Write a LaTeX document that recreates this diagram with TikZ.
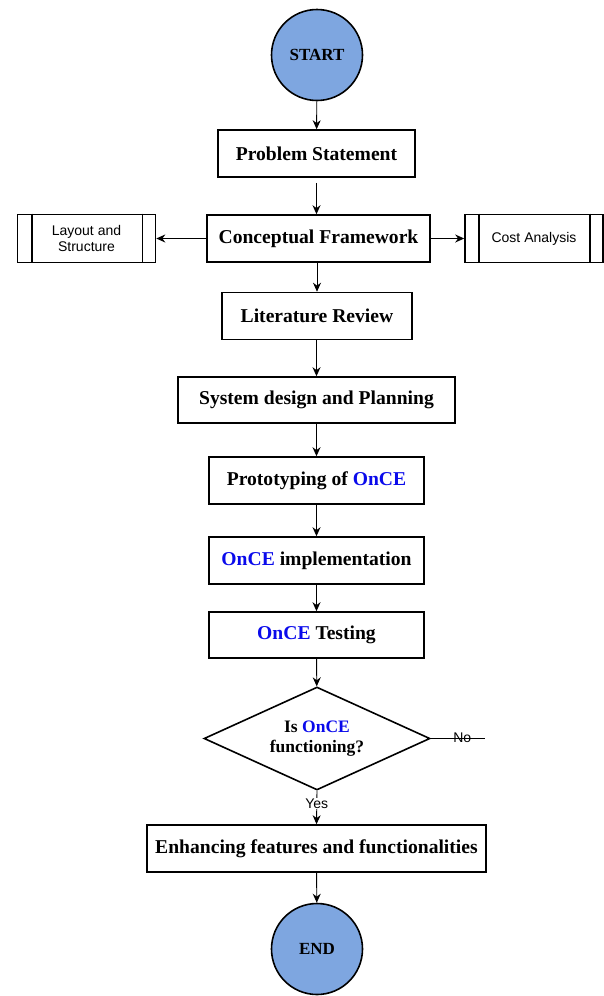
\documentclass[tikz,border=0pt]{standalone}
\usepackage{fontspec}
\setmainfont{Liberation Serif}
\newfontfamily\labelfont{Liberation Sans}
\usetikzlibrary{shapes.geometric,arrows.meta}
\definecolor{termfill}{RGB}{126,166,224}
\definecolor{oncecol}{RGB}{10,10,235}
\newcommand{\OnCEname}{\textcolor{oncecol}{OnCE}}
\begin{document}
\begin{tikzpicture}[x=1pt,y=-1pt,
  terminal/.style={circle, draw, line width=1.6pt, fill=termfill, minimum size=91pt,
    inner sep=0pt, font=\bfseries\fontsize{17}{20}\selectfont},
  stepbox/.style={rectangle, draw, line width=1.6pt, minimum height=47pt, inner sep=0pt,
    font=\bfseries\fontsize{19.6}{22}\selectfont},
  subproc/.style={rectangle, draw, line width=1.6pt, minimum width=138pt, minimum height=48pt,
    inner sep=0pt, align=center, font=\labelfont\fontsize{14}{15.5}\selectfont},
  decision/.style={diamond, draw, line width=1.6pt, aspect=2.2, minimum width=226pt,
    minimum height=103pt, inner sep=0pt, align=center,
    font=\bfseries\fontsize{17.5}{20}\selectfont},
  arr/.style={-{Stealth[length=9pt,width=8pt]}, line width=0.9pt},
  lbl/.style={font=\labelfont\fontsize{14}{16}\selectfont, inner sep=1pt}
]
\useasboundingbox (0,0) rectangle (604,996);

% main flow
\node[terminal] (start) at (317,55) {START};
\node[stepbox, minimum width=197pt] (ps) at (316.5,153.5) {Problem Statement};
\node[stepbox, minimum width=223pt] (cf) at (318.5,238.5) {Conceptual Framework};
\node[stepbox, minimum width=190pt] (lr) at (317,316) {Literature Review};
\node[stepbox, minimum width=277pt, minimum height=46pt] (sdp) at (316.5,400) {System design and Planning};
\node[stepbox, minimum width=215pt] (proto) at (316.5,480.5) {Prototyping of \OnCEname};
\node[stepbox, minimum width=215pt] (impl) at (316.5,560.5) {\OnCEname{} implementation};
\node[stepbox, minimum width=215pt, minimum height=46pt] (test) at (316.5,635) {\OnCEname{} Testing};
\node[decision] (dia) at (317,738.5) {Is \OnCEname\\functioning?};
\node[stepbox, minimum width=339pt] (enh) at (316.5,848.5) {Enhancing features and functionalities};
\node[terminal] (end) at (317,949) {END};

% side sub-processes
\node[subproc] (lay) at (86.5,238.5) {Layout and\\Structure};
\node[subproc] (cost) at (534,238.5) {Cost Analysis};
\foreach \n in {lay,cost}{
  \draw[line width=1.6pt] ([xshift=15pt]\n.north west) -- ([xshift=15pt]\n.south west);
  \draw[line width=1.6pt] ([xshift=-14pt]\n.north east) -- ([xshift=-14pt]\n.south east);
}

% connectors
\draw[arr] (start) -- (ps);
\draw[arr, shorten <=5pt] (ps) -- (ps |- cf.north);
\draw[arr] (cf.west) -- (lay.east);
\draw[arr] (cf.east) -- (cost.west);
\draw[arr] (lr.north |- cf.south) -- (lr.north);
\draw[arr] (lr.south -| sdp.north) -- (sdp.north);
\draw[arr] (sdp) -- (proto);
\draw[arr] (proto) -- (impl);
\draw[arr] (impl) -- (test);
\draw[arr] (test) -- (dia);
\draw[arr] (dia.south) -- node[lbl, fill=white, pos=0.38] {Yes} (enh.north);
\draw[arr] (enh) -- (end);

% the "No" branch ends open
\coordinate (noend) at (485,738.5);
\draw[line width=0.9pt] (dia.east) -- node[lbl, above, inner sep=0pt, yshift=-5pt, pos=0.58] {No} (noend);
\end{tikzpicture}
\end{document}
